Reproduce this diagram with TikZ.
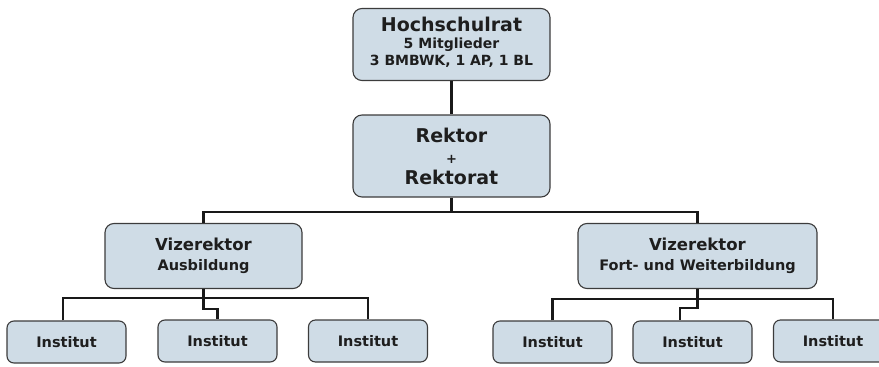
\documentclass[tikz,border=0pt]{standalone}
\usepackage{fontspec}
\setmainfont{DejaVu Sans}
\usetikzlibrary{calc}
\definecolor{boxfill}{HTML}{CFDCE6}
\definecolor{boxline}{HTML}{3C3C3C}
\definecolor{txt}{HTML}{1E1E1E}
\newcommand{\fsz}[2]{\fontsize{#1}{#2}\selectfont}
\tikzset{
  orgbox/.style={draw=boxline, fill=boxfill, line width=1.1pt, rounded corners=9pt,
    inner sep=0pt, align=center, text=txt},
  instbox/.style={orgbox, rounded corners=7pt, minimum width=119pt, minimum height=42pt,
    font=\bfseries\fsz{14.5}{17}},
  conn/.style={draw=black!90, line width=2.2pt},
}
\begin{document}
\begin{tikzpicture}[x=1pt,y=-1pt]
\useasboundingbox (0,0) rectangle (879,367);
\clip (0,0) rectangle (879,367);
\node[orgbox, minimum width=197pt, minimum height=72pt, font=\bfseries\fsz{14}{17}] (H) at (451.5,44.5)
  {\rule{0pt}{6pt}\\[-13pt]{\fsz{19}{17}Hochschulrat}\\
   5 Mitglieder\\
   3 BMBWK, 1 AP, 1 BL};
\node[orgbox, minimum width=197pt, minimum height=82pt, font=\bfseries\fsz{19}{21}] (R) at (451.5,156)
  {Rektor\\
   {\fsz{13}{21}+}\\
   Rektorat};
\node[orgbox, minimum width=197pt, minimum height=65pt, font=\bfseries\fsz{14.5}{20}] (VL) at (203.5,256)
  {{\fsz{16.5}{20}Vizerektor}\\
   Ausbildung};
\node[orgbox, minimum width=239pt, minimum height=65pt, font=\bfseries\fsz{14.5}{20}] (VR) at (697.5,256)
  {{\fsz{16.5}{20}Vizerektor}\\
   Fort- und Weiterbildung};
\node[instbox] (IL1) at (66.5,342) {Institut};
\node[instbox] (IL2) at (217.5,341) {Institut};
\node[instbox] (IL3) at (368,341) {Institut};
\node[instbox] (IR1) at (552.5,342) {Institut};
\node[instbox] (IR2) at (692.5,342) {Institut};
\node[instbox] (IR3) at (833,341) {Institut};
% connectors
\coordinate (bus) at (451.5,212);
\coordinate (busL) at (203.5,298);
\coordinate (jogL) at (203.5,309);
\coordinate (busR) at (697.5,299);
\coordinate (jogR) at (697.5,308);
\draw[conn] (H.south) -- (R.north);
\draw[conn] (R.south) -- (bus);
\draw[conn] (VL.north) |- (bus) -| (VR.north);
\draw[conn] (VL.south) -- (jogL) -| (IL2.north);
\draw[conn] ($(IL1.north)+(-3.5,0)$) |- (busL) -| (IL3.north);
\draw[conn] (VR.south) -- (jogR) -| ($(IR2.north)+(-12.5,0)$);
\draw[conn] (IR1.north) |- (busR) -| (IR3.north);
\end{tikzpicture}
\end{document}
